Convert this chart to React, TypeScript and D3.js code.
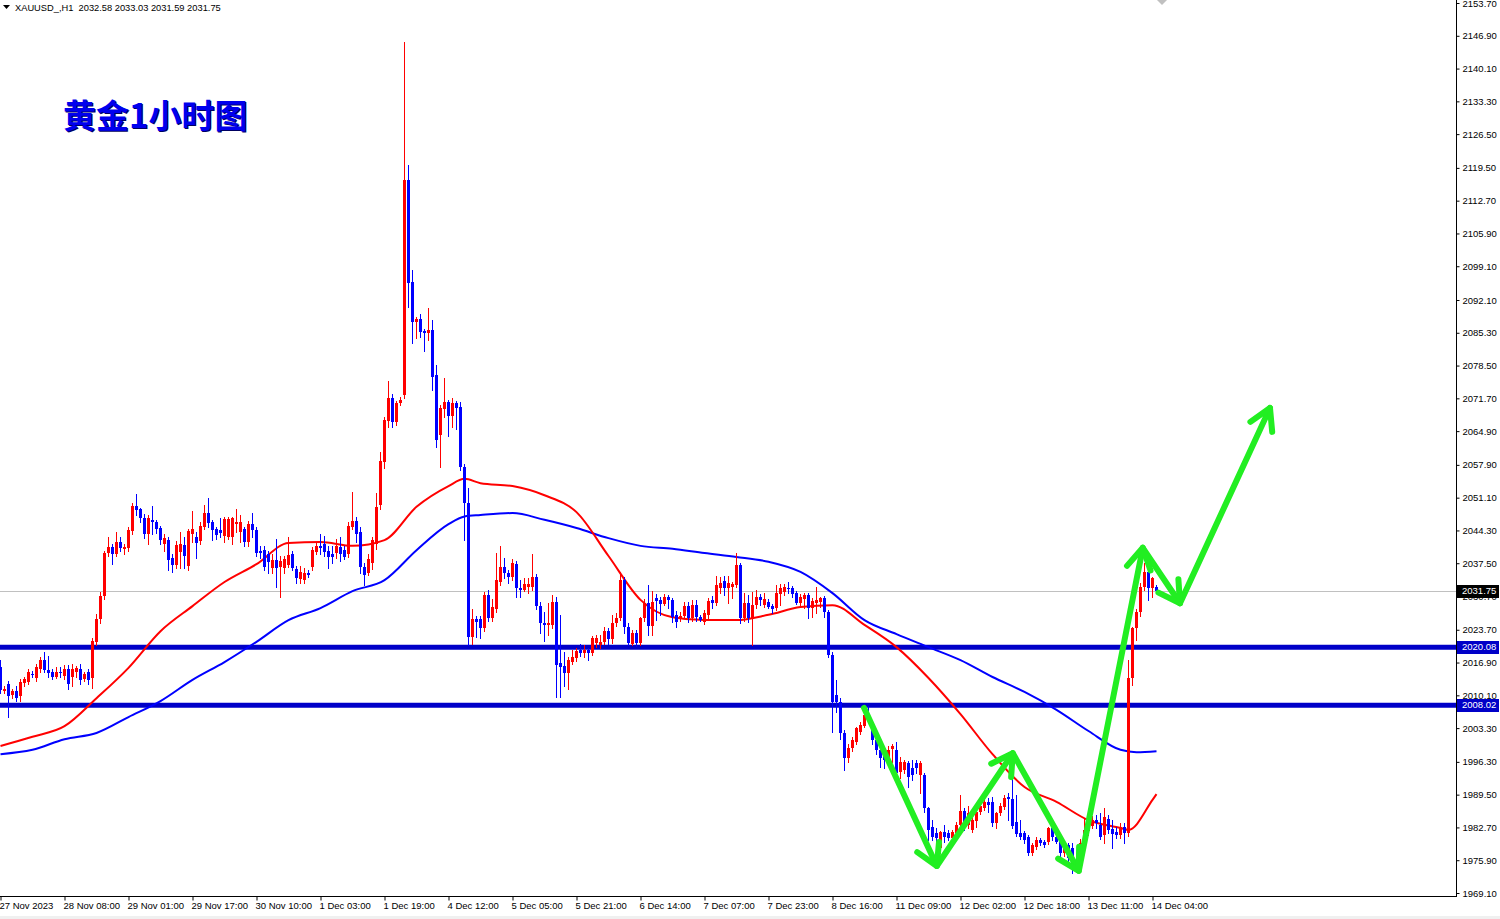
import { useEffect, useRef } from "react";
import * as d3 from "d3";

// XAUUSD H1, 27 Nov 2023 16:00 .. 14 Dec 2023 05:00, one row per bar: [open, high, low, close]
const ohlc: [number, number, number, number][] = [
  [2016.0, 2017.5, 2010.5, 2011.2], [2011.0, 2012.0, 2010.5, 2011.5], [2012.5, 2013.0, 2005.6, 2010.0], [2010.2, 2011.5, 2009.5, 2011.0],
  [2011.0, 2012.0, 2009.0, 2009.5], [2009.8, 2013.5, 2009.0, 2012.8], [2012.5, 2014.0, 2012.0, 2013.4], [2013.0, 2015.5, 2012.5, 2015.0],
  [2014.6, 2015.2, 2013.8, 2014.3], [2013.8, 2016.5, 2013.0, 2016.0], [2015.5, 2018.0, 2015.0, 2017.4], [2017.4, 2019.0, 2015.0, 2015.3],
  [2015.4, 2018.3, 2014.0, 2014.8], [2015.0, 2015.5, 2013.5, 2014.0], [2014.0, 2016.0, 2013.6, 2015.0], [2015.0, 2016.0, 2014.0, 2014.8],
  [2014.0, 2016.3, 2013.5, 2015.5], [2015.5, 2016.3, 2011.5, 2012.4], [2013.8, 2016.5, 2012.0, 2015.5], [2014.8, 2016.2, 2014.0, 2015.7],
  [2015.5, 2016.5, 2012.5, 2013.2], [2013.4, 2015.0, 2013.0, 2014.5], [2015.0, 2015.6, 2012.5, 2013.4], [2013.7, 2022.0, 2011.6, 2021.4],
  [2021.2, 2027.0, 2020.5, 2026.0], [2026.0, 2031.5, 2025.0, 2030.7], [2030.6, 2040.0, 2030.0, 2039.6], [2039.5, 2043.0, 2039.0, 2040.8],
  [2040.8, 2041.5, 2037.3, 2039.3], [2039.4, 2044.0, 2039.0, 2041.8], [2041.8, 2043.0, 2040.0, 2040.5], [2040.5, 2041.5, 2039.5, 2040.9],
  [2040.6, 2045.0, 2040.0, 2044.3], [2044.3, 2050.0, 2043.5, 2049.4], [2049.4, 2051.8, 2047.5, 2048.5], [2048.7, 2049.0, 2046.0, 2046.8],
  [2046.9, 2047.8, 2042.8, 2043.6], [2043.6, 2047.5, 2041.5, 2046.9], [2046.4, 2049.4, 2043.6, 2046.0], [2046.0, 2046.5, 2043.8, 2044.5],
  [2044.8, 2045.3, 2041.5, 2042.3], [2041.5, 2043.5, 2040.0, 2042.7], [2042.4, 2043.0, 2036.0, 2038.3], [2038.6, 2039.4, 2035.6, 2037.1],
  [2037.1, 2042.2, 2036.5, 2041.2], [2039.8, 2044.0, 2036.5, 2041.4], [2041.3, 2043.0, 2036.6, 2039.0], [2037.0, 2044.5, 2036.0, 2044.2],
  [2043.5, 2048.4, 2042.0, 2044.5], [2043.0, 2044.0, 2038.5, 2041.8], [2042.0, 2046.0, 2041.5, 2045.2], [2045.0, 2049.5, 2044.5, 2048.0],
  [2048.0, 2051.0, 2045.0, 2046.0], [2046.0, 2046.5, 2042.3, 2044.4], [2044.5, 2045.0, 2042.5, 2043.2], [2044.3, 2046.8, 2043.0, 2043.6],
  [2043.1, 2047.0, 2042.0, 2046.6], [2042.8, 2047.0, 2042.5, 2046.6], [2042.8, 2047.0, 2041.5, 2046.8], [2045.5, 2048.8, 2044.0, 2046.0],
  [2044.0, 2047.5, 2041.8, 2046.0], [2044.5, 2045.0, 2041.0, 2041.8], [2041.8, 2046.2, 2041.0, 2045.6], [2045.6, 2048.0, 2043.0, 2044.4],
  [2044.4, 2045.0, 2039.0, 2039.6], [2040.1, 2041.0, 2038.5, 2039.6], [2040.2, 2041.0, 2036.0, 2036.7], [2039.4, 2040.0, 2035.5, 2037.8],
  [2036.5, 2039.5, 2035.5, 2038.2], [2038.2, 2042.5, 2032.5, 2036.5], [2036.7, 2039.0, 2030.5, 2038.0], [2036.5, 2039.0, 2035.5, 2038.4],
  [2037.2, 2043.0, 2036.7, 2039.3], [2039.4, 2040.0, 2036.0, 2036.5], [2036.2, 2037.0, 2033.4, 2034.4], [2034.1, 2037.0, 2033.4, 2035.6],
  [2034.0, 2036.6, 2033.5, 2035.4], [2035.4, 2036.0, 2034.6, 2035.0], [2036.7, 2040.8, 2036.0, 2040.2], [2039.8, 2042.0, 2039.5, 2041.0],
  [2041.0, 2043.5, 2039.5, 2040.5], [2041.5, 2043.2, 2039.0, 2039.8], [2040.0, 2041.0, 2036.6, 2038.8], [2039.5, 2041.0, 2037.5, 2038.9],
  [2039.5, 2042.5, 2038.5, 2041.0], [2040.8, 2043.0, 2038.0, 2039.4], [2040.2, 2041.0, 2038.3, 2038.8], [2039.4, 2046.0, 2038.8, 2045.2],
  [2045.0, 2052.3, 2044.5, 2046.2], [2046.2, 2047.0, 2042.0, 2043.4], [2044.0, 2045.0, 2035.5, 2036.7], [2036.8, 2037.5, 2033.0, 2035.2],
  [2035.4, 2039.4, 2035.0, 2038.4], [2037.5, 2043.0, 2036.3, 2042.3], [2041.5, 2052.0, 2040.5, 2049.2], [2049.5, 2060.6, 2048.8, 2058.7],
  [2058.5, 2067.8, 2057.2, 2067.2], [2067.0, 2075.3, 2065.7, 2071.8], [2071.8, 2072.6, 2065.7, 2066.8], [2066.8, 2071.2, 2066.1, 2070.7],
  [2070.7, 2072.0, 2070.3, 2071.3], [2072.4, 2145.6, 2071.8, 2117.0], [2117.0, 2120.1, 2090.6, 2095.6], [2095.8, 2098.3, 2083.2, 2087.5],
  [2087.5, 2088.6, 2084.2, 2088.2], [2088.2, 2089.2, 2084.4, 2085.5], [2085.7, 2086.1, 2081.5, 2085.3], [2085.3, 2090.4, 2083.8, 2085.9],
  [2085.9, 2087.9, 2073.4, 2076.1], [2076.5, 2078.6, 2061.6, 2063.1], [2064.1, 2070.3, 2057.5, 2069.7], [2069.4, 2075.9, 2067.8, 2070.9],
  [2070.9, 2071.3, 2063.9, 2068.0], [2068.0, 2071.8, 2065.7, 2070.7], [2070.7, 2071.1, 2065.3, 2069.7], [2069.9, 2071.0, 2056.8, 2057.5],
  [2057.5, 2058.0, 2042.3, 2050.0], [2050.0, 2053.1, 2020.5, 2022.2], [2022.2, 2028.0, 2020.7, 2025.9], [2025.9, 2026.5, 2022.2, 2025.3],
  [2025.9, 2026.5, 2022.0, 2024.0], [2024.0, 2031.5, 2023.5, 2030.9], [2030.9, 2032.0, 2025.5, 2026.1], [2026.1, 2030.1, 2025.5, 2028.4],
  [2028.0, 2039.6, 2027.3, 2034.0], [2033.6, 2041.1, 2033.0, 2036.7], [2036.7, 2038.6, 2034.4, 2035.5], [2035.5, 2036.0, 2033.4, 2034.6],
  [2034.6, 2038.4, 2034.0, 2037.5], [2037.3, 2038.0, 2030.5, 2032.4], [2032.4, 2034.0, 2030.5, 2032.0], [2032.0, 2034.4, 2031.8, 2033.2],
  [2032.6, 2034.4, 2031.3, 2033.2], [2032.6, 2039.4, 2032.0, 2034.6], [2034.6, 2035.2, 2028.0, 2028.6], [2028.6, 2029.5, 2023.1, 2025.1],
  [2025.1, 2027.4, 2021.4, 2024.7], [2024.7, 2029.3, 2022.6, 2025.1], [2024.7, 2030.9, 2024.0, 2029.5], [2029.5, 2030.5, 2009.7, 2016.4],
  [2016.8, 2026.8, 2009.7, 2016.0], [2016.2, 2019.1, 2012.0, 2014.7], [2014.7, 2018.0, 2011.5, 2017.4], [2017.0, 2019.5, 2016.6, 2018.1],
  [2017.9, 2020.0, 2017.2, 2019.3], [2019.5, 2020.7, 2018.2, 2018.9], [2018.9, 2020.5, 2018.0, 2019.5], [2019.5, 2019.9, 2017.4, 2018.9],
  [2018.9, 2022.4, 2018.5, 2022.0], [2021.0, 2022.6, 2020.1, 2022.0], [2020.5, 2022.6, 2019.9, 2021.2], [2021.2, 2024.3, 2020.8, 2023.5],
  [2023.5, 2024.1, 2020.7, 2021.8], [2021.8, 2026.8, 2021.0, 2025.1], [2025.0, 2027.2, 2024.5, 2026.1], [2026.1, 2035.7, 2025.8, 2034.0],
  [2034.0, 2034.6, 2023.1, 2024.3], [2024.3, 2025.0, 2020.5, 2020.9], [2020.9, 2023.7, 2020.5, 2023.1], [2023.1, 2023.6, 2020.4, 2021.0],
  [2021.0, 2026.4, 2020.6, 2026.1], [2026.1, 2030.1, 2025.5, 2029.3], [2029.3, 2033.0, 2022.6, 2024.5], [2024.5, 2031.7, 2022.6, 2029.5],
  [2030.2, 2031.1, 2025.7, 2029.6], [2029.9, 2030.5, 2026.8, 2029.0], [2029.0, 2031.1, 2028.8, 2030.5], [2030.5, 2030.9, 2028.2, 2029.9],
  [2029.9, 2030.3, 2025.3, 2026.4], [2026.8, 2027.5, 2024.3, 2025.3], [2025.9, 2027.4, 2025.5, 2026.6], [2026.6, 2029.5, 2026.4, 2028.6],
  [2028.6, 2029.5, 2025.3, 2026.1], [2026.1, 2029.9, 2025.5, 2028.8], [2028.8, 2029.9, 2025.5, 2026.4], [2026.4, 2026.8, 2025.5, 2025.8],
  [2025.3, 2027.8, 2024.9, 2027.2], [2026.8, 2030.2, 2026.0, 2029.7], [2029.9, 2030.7, 2028.2, 2029.3], [2029.3, 2034.8, 2028.8, 2033.0],
  [2032.4, 2034.6, 2031.3, 2033.4], [2033.8, 2034.8, 2030.9, 2032.4], [2032.4, 2034.8, 2029.3, 2033.4], [2032.6, 2033.6, 2030.3, 2033.2],
  [2033.0, 2039.6, 2032.5, 2037.1], [2037.1, 2037.6, 2025.1, 2026.1], [2026.1, 2031.3, 2025.5, 2029.3], [2029.3, 2030.9, 2025.3, 2026.1],
  [2026.1, 2031.5, 2020.5, 2028.8], [2028.8, 2032.0, 2028.2, 2030.5], [2030.5, 2031.1, 2028.8, 2029.9], [2028.8, 2031.3, 2028.4, 2030.1],
  [2029.5, 2030.0, 2028.2, 2028.4], [2028.6, 2029.0, 2027.2, 2028.0], [2028.2, 2033.0, 2027.8, 2031.3], [2031.1, 2033.2, 2028.8, 2032.4],
  [2031.5, 2033.2, 2030.9, 2032.6], [2032.4, 2033.6, 2031.3, 2032.2], [2032.4, 2032.8, 2030.5, 2031.1], [2031.3, 2031.7, 2029.0, 2029.3],
  [2029.3, 2031.1, 2028.8, 2030.5], [2030.1, 2031.3, 2028.2, 2030.9], [2030.9, 2031.3, 2026.1, 2028.2], [2028.2, 2030.3, 2026.4, 2029.7],
  [2029.3, 2032.6, 2027.2, 2029.9], [2029.5, 2030.5, 2028.4, 2030.3], [2030.3, 2030.7, 2026.4, 2027.4], [2027.4, 2027.8, 2018.0, 2018.5],
  [2018.5, 2019.0, 2002.5, 2008.7], [2010.1, 2013.3, 2006.6, 2008.7], [2008.7, 2009.5, 2001.0, 2002.3], [2002.3, 2003.0, 1994.6, 1997.1],
  [1997.1, 2000.0, 1996.3, 1999.2], [1999.2, 2001.5, 1998.5, 2000.8], [2000.4, 2003.5, 2000.0, 2003.3], [2002.5, 2004.5, 2002.0, 2003.9],
  [2003.9, 2007.2, 2003.5, 2006.1], [2006.3, 2007.8, 2004.5, 2005.3], [2003.9, 2005.0, 2000.0, 2000.8], [2000.8, 2001.2, 1998.0, 1998.8],
  [1998.8, 1999.2, 1995.2, 1997.1], [1998.2, 1999.0, 1995.0, 1996.8], [1997.1, 1999.5, 1996.5, 1998.8], [1998.8, 2000.0, 1996.3, 1999.5],
  [1998.8, 2000.4, 1993.5, 1994.0], [1994.2, 1997.3, 1993.0, 1996.3], [1994.6, 1996.7, 1994.0, 1996.3], [1996.0, 1996.5, 1991.1, 1993.0],
  [1995.0, 1996.7, 1992.5, 1993.6], [1996.0, 1996.7, 1994.0, 1995.0], [1993.6, 1996.5, 1989.8, 1996.0], [1993.6, 1994.0, 1986.0, 1986.7],
  [1986.7, 1987.0, 1980.1, 1982.2], [1982.8, 1984.2, 1980.1, 1980.7], [1981.5, 1982.6, 1978.0, 1980.5], [1978.4, 1982.0, 1977.4, 1981.7],
  [1981.7, 1983.2, 1979.7, 1980.7], [1981.5, 1982.2, 1980.1, 1980.5], [1980.5, 1982.2, 1979.8, 1981.7], [1981.5, 1983.8, 1981.0, 1983.2],
  [1983.2, 1989.4, 1982.8, 1986.1], [1986.1, 1986.7, 1982.2, 1983.2], [1983.2, 1987.1, 1982.6, 1985.7], [1982.2, 1984.8, 1981.7, 1984.2],
  [1984.0, 1986.9, 1982.8, 1985.9], [1985.9, 1987.8, 1985.5, 1987.1], [1986.7, 1988.6, 1986.3, 1988.0], [1988.0, 1988.8, 1985.9, 1987.3],
  [1988.0, 1989.0, 1983.0, 1983.6], [1983.6, 1986.0, 1982.6, 1985.7], [1985.7, 1987.8, 1985.3, 1987.1], [1986.9, 1989.4, 1986.5, 1988.8],
  [1989.0, 1989.8, 1984.2, 1988.6], [1988.6, 1994.6, 1982.6, 1983.0], [1983.9, 1989.4, 1980.9, 1981.5], [1981.5, 1984.2, 1980.2, 1980.7],
  [1981.5, 1982.0, 1979.5, 1980.1], [1980.7, 1981.2, 1977.0, 1977.4], [1977.4, 1979.5, 1977.0, 1979.1], [1978.7, 1980.7, 1978.3, 1980.1],
  [1980.1, 1980.5, 1979.1, 1979.5], [1979.7, 1980.1, 1978.7, 1979.1], [1979.7, 1982.8, 1979.3, 1982.6], [1982.6, 1983.0, 1980.1, 1980.7],
  [1980.7, 1981.5, 1979.5, 1979.7], [1979.9, 1980.5, 1976.6, 1977.4], [1977.4, 1979.9, 1976.8, 1979.0], [1979.0, 1979.5, 1975.5, 1976.4],
  [1978.5, 1979.5, 1973.2, 1974.7], [1975.5, 1976.0, 1973.5, 1974.3], [1974.7, 1980.2, 1974.2, 1979.5], [1979.5, 1984.6, 1979.0, 1982.2],
  [1981.9, 1985.0, 1981.2, 1984.2], [1983.0, 1985.0, 1982.5, 1984.2], [1984.2, 1985.2, 1982.6, 1983.6], [1983.2, 1985.7, 1980.2, 1980.7],
  [1981.0, 1986.7, 1979.5, 1984.8], [1984.4, 1985.2, 1981.5, 1982.2], [1982.4, 1984.2, 1978.4, 1981.3], [1981.7, 1982.8, 1980.5, 1981.1],
  [1981.1, 1983.6, 1980.5, 1982.8], [1982.8, 1983.6, 1979.5, 1981.5], [1981.5, 2017.4, 1980.9, 2013.7], [2013.7, 2024.3, 2012.2, 2024.1],
  [2024.1, 2028.0, 2021.6, 2027.4], [2027.4, 2033.4, 2026.5, 2032.6], [2032.6, 2037.5, 2032.0, 2035.7], [2035.7, 2037.5, 2029.9, 2032.4],
  [2032.4, 2034.6, 2030.5, 2034.4], [2032.58, 2033.03, 2031.59, 2031.75],
];

// moving averages: [bar index, price]
const maRed: [number, number][] = [
  [0, 1999.6], [8, 2001.5], [16, 2003.7], [24, 2009.5], [32, 2015.8], [40, 2023.4], [48, 2028.6], [56, 2033.6],
  [64, 2037.3], [72, 2041.7], [80, 2041.9], [88, 2041.1], [96, 2042.3], [104, 2049.2], [112, 2053.5], [116, 2055.0],
  [120, 2054.1], [128, 2053.5], [136, 2051.6], [144, 2048.1], [152, 2039.0], [160, 2029.9], [168, 2026.3], [176, 2025.7],
  [184, 2025.7], [192, 2026.8], [200, 2028.4], [208, 2028.8], [216, 2024.7], [224, 2020.1], [232, 2013.7], [240, 2006.2],
  [248, 1997.9], [256, 1991.1], [264, 1988.0], [272, 1984.2], [280, 1982.6], [282, 1982.2], [288, 1988.4], [289, 1989.6],
];
const maBlue: [number, number][] = [
  [0, 1997.9], [8, 1998.8], [16, 2001.0], [24, 2002.3], [32, 2005.6], [40, 2008.9], [48, 2013.3], [56, 2017.0],
  [64, 2021.2], [72, 2025.7], [80, 2028.2], [88, 2031.7], [96, 2034.0], [104, 2040.2], [112, 2045.6], [116, 2047.2],
  [120, 2047.5], [128, 2047.9], [136, 2046.5], [144, 2044.8], [152, 2042.7], [160, 2041.1], [168, 2040.5], [176, 2039.6],
  [184, 2038.8], [192, 2037.8], [200, 2035.7], [208, 2031.3], [216, 2025.7], [224, 2022.8], [232, 2020.1], [240, 2017.4],
  [248, 2013.9], [256, 2010.8], [264, 2007.1], [272, 2002.7], [280, 1998.8], [284, 1998.3], [289, 1998.5],
];

const timeLabels = [
  "27 Nov 2023", "28 Nov 08:00", "29 Nov 01:00", "29 Nov 17:00", "30 Nov 10:00", "1 Dec 03:00", "1 Dec 19:00",
  "4 Dec 12:00", "5 Dec 05:00", "5 Dec 21:00", "6 Dec 14:00", "7 Dec 07:00", "7 Dec 23:00", "8 Dec 16:00",
  "11 Dec 09:00", "12 Dec 02:00", "12 Dec 18:00", "13 Dec 11:00", "14 Dec 04:00",
];
const priceTicks = [
  2153.7, 2146.9, 2140.1, 2133.3, 2126.5, 2119.5, 2112.7, 2105.9, 2099.1, 2092.1, 2085.3, 2078.5, 2071.7, 2064.9,
  2057.9, 2051.1, 2044.3, 2037.5, 2030.7, 2023.7, 2016.9, 2010.1, 2003.3, 1996.3, 1989.5, 1982.7, 1975.9, 1969.1,
];
const levels = [2020.08, 2008.02];
const lastPrice = 2031.75;
// hand drawn zig-zag forecast: [bar index, price]
const arrowPath: [number, number][] = [
  [216, 2007.5], [234.2, 1974.7], [253.2, 1998.1], [269.7, 1973.7], [285.7, 2040.7], [295, 2029.2], [317.5, 2069.7],
];

const FONT = "'Liberation Sans', Arial, sans-serif";

export default function App() {
  const ref = useRef<SVGSVGElement | null>(null);

  useEffect(() => {
    if (!ref.current) return;
    const svg = d3.select(ref.current);
    svg.selectAll("*").remove();

    const plotW = 1456;
    const plotH = 896;

    const x = d3.scaleLinear().domain([0, 364]).range([0, plotW]);
    const y = d3.scaleLinear().domain([1969.1, 2153.7]).range([893, 3]);

    svg.append("rect").attr("width", 1500).attr("height", 919).attr("fill", "#fff");
    svg.append("rect").attr("y", 916).attr("width", 1500).attr("height", 3).attr("fill", "#f0f0f0");

    svg.append("defs").append("clipPath").attr("id", "plot")
      .append("rect").attr("width", plotW).attr("height", plotH);
    const g = svg.append("g").attr("clip-path", "url(#plot)");

    // last price line
    g.append("line")
      .attr("x1", 0).attr("x2", plotW)
      .attr("y1", Math.round(y(lastPrice)) + 0.5).attr("y2", Math.round(y(lastPrice)) + 0.5)
      .attr("stroke", "#c0c0c0");

    // support / resistance levels
    g.selectAll("line.level").data(levels).join("line")
      .attr("class", "level")
      .attr("x1", 0).attr("x2", plotW)
      .attr("y1", (d) => y(d)).attr("y2", (d) => y(d))
      .attr("stroke", "#0000c8").attr("stroke-width", 5);

    // moving averages
    const ma = d3.line<[number, number]>()
      .x((d) => x(d[0]) + 0.5)
      .y((d) => y(d[1]))
      .curve(d3.curveMonotoneX);
    g.append("path").datum(maBlue).attr("d", ma).attr("fill", "none").attr("stroke", "#0000ff").attr("stroke-width", 2);
    g.append("path").datum(maRed).attr("d", ma).attr("fill", "none").attr("stroke", "#ff0000").attr("stroke-width", 2);

    // candles
    const colour = (d: number[]) => (d[3] >= d[0] ? "#ff0000" : "#0000ff");
    const bars = g.selectAll("g.bar").data(ohlc).join("g").attr("class", "bar");
    bars.append("line")
      .attr("x1", (_, i) => x(i) + 0.5).attr("x2", (_, i) => x(i) + 0.5)
      .attr("y1", (d) => Math.round(y(d[1]))).attr("y2", (d) => Math.round(y(d[2])) + 1)
      .attr("stroke", colour);
    bars.append("rect")
      .attr("x", (_, i) => x(i) - 1)
      .attr("width", 3)
      .attr("y", (d) => Math.round(y(Math.max(d[0], d[3]))))
      .attr("height", (d) => Math.max(1, Math.round(Math.abs(y(d[0]) - y(d[3])))))
      .attr("fill", colour);

    // forecast arrows
    const pts = arrowPath.map((p) => [x(p[0]), y(p[1])] as [number, number]);
    const green = "#22ee22";
    g.append("path")
      .attr("d", d3.line()(pts))
      .attr("fill", "none").attr("stroke", green).attr("stroke-width", 6)
      .attr("stroke-linecap", "round").attr("stroke-linejoin", "round");
    const heads: string[] = [];
    for (let k = 1; k < pts.length; k++) {
      const [x0, y0] = pts[k - 1];
      const [x1, y1] = pts[k];
      const len = Math.hypot(x0 - x1, y0 - y1);
      const ux = (x0 - x1) / len;
      const uy = (y0 - y1) / len;
      const a = Math.PI / 6;
      const L = 24;
      const w1 = [x1 + L * (ux * Math.cos(a) - uy * Math.sin(a)), y1 + L * (ux * Math.sin(a) + uy * Math.cos(a))];
      const w2 = [x1 + L * (ux * Math.cos(a) + uy * Math.sin(a)), y1 + L * (-ux * Math.sin(a) + uy * Math.cos(a))];
      heads.push(`M${w1[0]},${w1[1]}L${x1},${y1}L${w2[0]},${w2[1]}`);
    }
    g.append("path")
      .attr("d", heads.join(""))
      .attr("fill", "none").attr("stroke", green).attr("stroke-width", 6)
      .attr("stroke-linecap", "round").attr("stroke-linejoin", "round");

    // chart shift marker
    const sx = x(290.5);
    svg.append("path").attr("d", `M${sx - 5},0L${sx + 5},0L${sx},5Z`).attr("fill", "#c0c0c0");

    // frame
    svg.append("line").attr("x1", plotW + 0.5).attr("x2", plotW + 0.5).attr("y1", 0).attr("y2", plotH + 1).attr("stroke", "#000");
    svg.append("line").attr("x1", 0).attr("x2", plotW + 1).attr("y1", plotH + 0.5).attr("y2", plotH + 0.5).attr("stroke", "#000");

    // price axis
    const yAxis = svg.append("g")
      .attr("transform", `translate(${plotW + 0.5},0)`)
      .call(d3.axisRight(y).tickValues(priceTicks).tickFormat(d3.format(".2f")).tickSize(3).tickPadding(3));
    yAxis.select(".domain").remove();
    yAxis.attr("font-family", FONT).attr("font-size", 9.5);
    yAxis.selectAll("text").attr("fill", "#000");

    // time axis
    const xAxis = svg.append("g")
      .attr("transform", `translate(0,${plotH + 0.5})`)
      .call(
        d3.axisBottom(x)
          .tickValues(d3.range(0, timeLabels.length * 16, 16))
          .tickFormat((_, i) => timeLabels[i])
          .tickSize(4)
          .tickPadding(2)
      );
    xAxis.select(".domain").remove();
    xAxis.attr("font-family", FONT).attr("font-size", 9.5);
    xAxis.selectAll("text").attr("text-anchor", "start").attr("x", -1).attr("fill", "#000");
    xAxis.selectAll(".tick line").attr("transform", "translate(0.5,0)");

    // price tags on the axis
    const tags = [
      { v: lastPrice, fill: "#000000" },
      ...levels.map((v) => ({ v, fill: "#0000c8" })),
    ];
    const tag = svg.selectAll("g.tag").data(tags).join("g").attr("class", "tag")
      .attr("transform", (d) => `translate(${plotW + 1},${Math.round(y(d.v))})`);
    tag.append("rect").attr("x", 0).attr("y", -6).attr("width", 42).attr("height", 13).attr("fill", (d) => d.fill);
    tag.append("text")
      .attr("x", 5).attr("dy", "0.35em")
      .attr("font-family", FONT).attr("font-size", 9.5).attr("fill", "#fff")
      .text((d) => d.v.toFixed(2));

    // header
    svg.append("path").attr("d", "M3,5L10,5L6.5,9Z").attr("fill", "#000");
    svg.append("text")
      .attr("x", 15).attr("y", 11)
      .attr("font-family", FONT).attr("font-size", 9.3).attr("fill", "#000")
      .attr("xml:space", "preserve")
      .text("XAUUSD_,H1  2032.58 2033.03 2031.59 2031.75");

    // title
    const title = "黄金1小时图";
    const tf = "'Noto Sans CJK SC', sans-serif";
    svg.append("text")
      .attr("x", 64).attr("y", 129)
      .attr("font-family", tf).attr("font-size", 33).attr("font-weight", 700)
      .attr("fill", "#000060").text(title);
    svg.append("text")
      .attr("x", 63).attr("y", 128)
      .attr("font-family", tf).attr("font-size", 33).attr("font-weight", 700)
      .attr("fill", "#0000ee").text(title);
  }, []);

  return (
    <svg
      ref={ref}
      width={1500}
      height={919}
      style={{ position: "absolute", left: 0, top: 0, display: "block" }}
    />
  );
}
